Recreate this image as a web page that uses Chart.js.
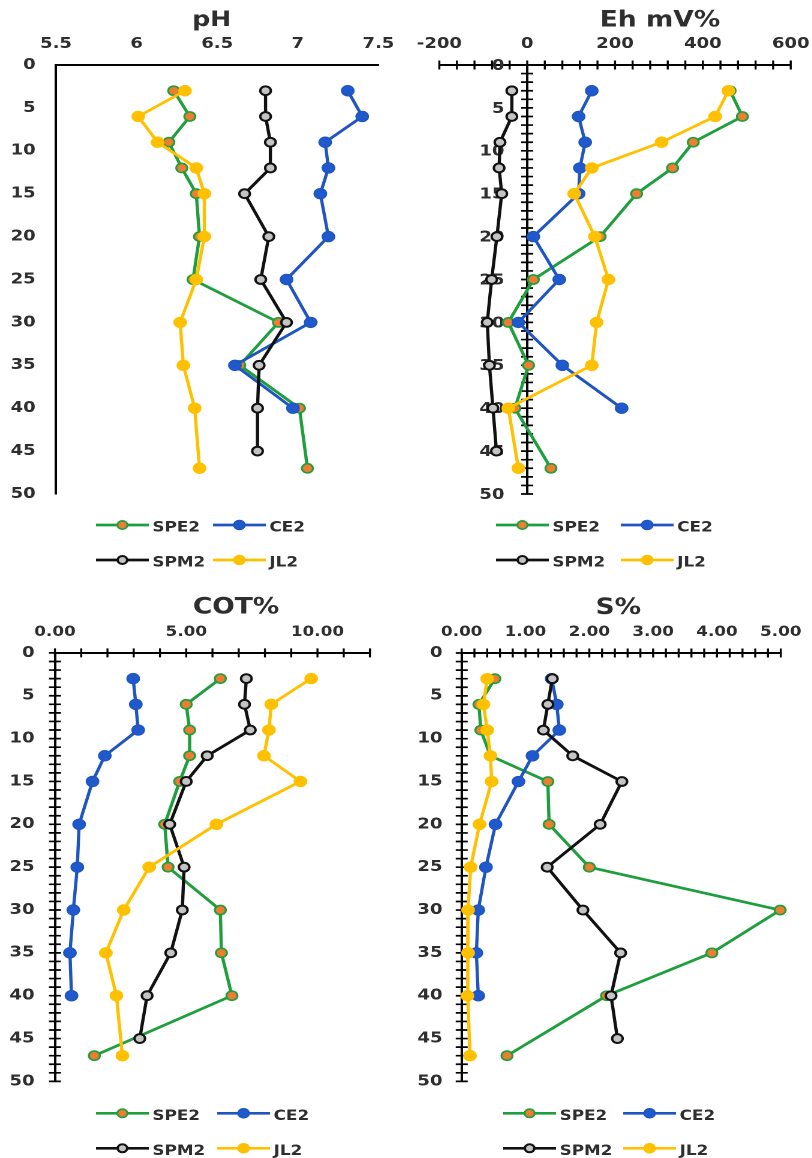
<!DOCTYPE html>
<html>
<head>
<meta charset="utf-8">
<script src="https://cdn.jsdelivr.net/npm/chart.js@4.4.1/dist/chart.umd.min.js"></script>
<style>
  html, body { margin: 0; padding: 0; background: #fff; }
  body { width: 812px; height: 1158px; position: relative; overflow: hidden; }
  .panel { position: absolute; transform: scaleX(1.2); transform-origin: 0 0; }
</style>
</head>
<body>
<div class="panel" style="left:0px;top:0px;width:333px;height:580px"><canvas id="chartPH"></canvas></div>
<div class="panel" style="left:400px;top:0px;width:343px;height:580px"><canvas id="chartEH"></canvas></div>
<div class="panel" style="left:0px;top:580px;width:333px;height:578px"><canvas id="chartCOT"></canvas></div>
<div class="panel" style="left:400px;top:580px;width:343px;height:578px"><canvas id="chartS"></canvas></div>
<script>
// Sampling depths of each core
const depthSPE2 = [3, 6, 9, 12, 15, 20, 25, 30, 35, 40, 47];
const depthCE2  = [3, 6, 9, 12, 15, 20, 25, 30, 35, 40];
const depthSPM2 = [3, 6, 9, 12, 15, 20, 25, 30, 35, 40, 45];
const depthJL2  = [3, 6, 9, 12, 15, 20, 25, 30, 35, 40, 47];

// Labelled ticks
const depthTicks = [0, 5, 10, 15, 20, 25, 30, 35, 40, 45, 50];
const phTicks  = [5.5, 6, 6.5, 7, 7.5];
const ehTicks  = [-200, 0, 200, 400, 600];
const cotTicks = [0, 5, 10];
const sTicks   = [0, 1, 2, 3, 4, 5];

// pH
const phSPE2 = [6.23, 6.33, 6.20, 6.28, 6.37, 6.39, 6.35, 6.88, 6.64, 7.01, 7.06];
const phCE2  = [7.31, 7.40, 7.17, 7.19, 7.14, 7.19, 6.93, 7.08, 6.61, 6.97];
const phSPM2 = [6.80, 6.80, 6.83, 6.83, 6.67, 6.82, 6.77, 6.93, 6.76, 6.75, 6.75];
const phJL2  = [6.30, 6.01, 6.13, 6.37, 6.42, 6.42, 6.37, 6.27, 6.29, 6.36, 6.39];

// Eh (mV)
const ehSPE2 = [462, 490, 378, 331, 249, 166, 14, -43, 3, -28, 54];
const ehCE2  = [147, 117, 132, 120, 117, 14, 73, -20, 80, 215];
const ehSPM2 = [-35, -35, -62, -64, -58, -69, -81, -91, -86, -78, -70];
const ehJL2  = [458, 428, 306, 147, 107, 154, 185, 158, 147, -43, -20];

// COT %
const cotSPE2 = [6.30, 5.00, 5.13, 5.13, 4.75, 4.18, 4.31, 6.30, 6.34, 6.74, 1.50];
const cotCE2  = [2.98, 3.08, 3.17, 1.90, 1.43, 0.92, 0.85, 0.70, 0.57, 0.63];
const cotSPM2 = [7.29, 7.22, 7.44, 5.80, 5.00, 4.37, 4.92, 4.85, 4.41, 3.51, 3.23];
const cotJL2  = [9.76, 8.24, 8.15, 7.96, 9.35, 6.15, 3.59, 2.62, 1.94, 2.34, 2.57];

// S %
const sSPE2 = [0.52, 0.27, 0.30, 0.45, 1.35, 1.37, 2.00, 4.99, 3.92, 2.27, 0.71];
const sCE2  = [1.41, 1.49, 1.53, 1.11, 0.89, 0.53, 0.38, 0.26, 0.23, 0.26];
const sSPM2 = [1.42, 1.35, 1.28, 1.74, 2.51, 2.17, 1.34, 1.90, 2.49, 2.34, 2.44];
const sJL2  = [0.40, 0.34, 0.40, 0.45, 0.47, 0.28, 0.14, 0.10, 0.10, 0.09, 0.13];

const FONT = "'DejaVu Sans', 'Verdana', sans-serif";
const TEXT = '#2e2e2e';

const seriesStyle = {
  SPE2: { line: '#1e9e3c', fill: '#ed7d31', edge: '#1e9e3c', edgeW: 1.6, r: 4.6 },
  CE2:  { line: '#1f55c0', fill: '#1f59cc', edge: '#1f55c0', edgeW: 1,   r: 5.2 },
  SPM2: { line: '#111111', fill: '#c4c4c4', edge: '#111111', edgeW: 2,   r: 4.4 },
  JL2:  { line: '#ffc000', fill: '#ffc000', edge: '#ffc000', edgeW: 1,   r: 5.2 }
};

function makeSeries(name, depths, values, order) {
  const st = seriesStyle[name];
  return {
    label: name,
    data: values.map((v, i) => ({ x: v, y: depths[i] })),
    borderColor: st.line,
    backgroundColor: st.fill,
    borderWidth: 2.7,
    pointRadius: st.r,
    pointBackgroundColor: st.fill,
    pointBorderColor: st.edge,
    pointBorderWidth: st.edgeW,
    tension: 0,
    clip: false,
    order: order
  };
}

function isLabelled(list, v) {
  return list.some(t => Math.abs(t - v) < 1e-6);
}

// Panel heading
const headingPlugin = {
  id: 'heading',
  afterDraw(chart, args, o) {
    const ctx = chart.ctx;
    ctx.save();
    ctx.font = `bold ${o.size}px ${FONT}`;
    ctx.fillStyle = TEXT;
    ctx.textAlign = 'center';
    ctx.textBaseline = 'alphabetic';
    ctx.fillText(o.text, o.x, o.y);
    ctx.restore();
  }
};

// Tick marks that cross the axis lines, plus depth labels for an axis sitting at x = 0
const crossTickPlugin = {
  id: 'crossTicks',
  beforeDatasetsDraw(chart, args, o) {
    const { ctx, scales: { x, y } } = chart;
    const axisX = o.yAtZero ? x.getPixelForValue(0) : x.left;
    const axisY = y.getPixelForValue(0);
    ctx.save();
    if (o.enabled) {
      ctx.strokeStyle = '#000';
      ctx.lineWidth = 1.7;
      ctx.beginPath();
      x.ticks.forEach(t => {
        const px = x.getPixelForValue(t.value);
        ctx.moveTo(px, axisY - 4.5);
        ctx.lineTo(px, axisY + 4.5);
      });
      y.ticks.forEach(t => {
        const py = y.getPixelForValue(t.value);
        ctx.moveTo(axisX - 5, py);
        ctx.lineTo(axisX + 5, py);
      });
      ctx.stroke();
    }
    if (o.yAtZero) {
      ctx.font = `bold 15px ${FONT}`;
      ctx.fillStyle = TEXT;
      ctx.textAlign = 'right';
      ctx.textBaseline = 'middle';
      depthTicks.forEach(v => {
        ctx.fillText(String(v), axisX - o.labelGap, y.getPixelForValue(v) + 1);
      });
    }
    ctx.restore();
  }
};

// Two-row legend with line + marker samples
const legendPlugin = {
  id: 'pairLegend',
  afterDraw(chart, args, o) {
    const ctx = chart.ctx;
    const slots = [[o.c1, o.y1], [o.c2, o.y1], [o.c1, o.y2], [o.c2, o.y2]];
    chart.data.datasets.forEach((ds, i) => {
      const [x, y] = slots[i];
      ctx.save();
      ctx.strokeStyle = ds.borderColor;
      ctx.lineWidth = ds.borderWidth;
      ctx.beginPath();
      ctx.moveTo(x, y);
      ctx.lineTo(x + o.len, y);
      ctx.stroke();
      ctx.beginPath();
      ctx.arc(x + o.len / 2, y, ds.pointRadius - 0.4, 0, Math.PI * 2);
      ctx.fillStyle = ds.pointBackgroundColor;
      ctx.fill();
      ctx.lineWidth = ds.pointBorderWidth;
      ctx.strokeStyle = ds.pointBorderColor;
      ctx.stroke();
      ctx.font = `bold 14px ${FONT}`;
      ctx.fillStyle = TEXT;
      ctx.textAlign = 'left';
      ctx.textBaseline = 'alphabetic';
      ctx.fillText(ds.label, x + o.len + 3, y + 6.5);
      ctx.restore();
    });
  }
};

function buildPanel(p) {
  const A = p.area;
  const datasets = [
    makeSeries('SPE2', depthSPE2, p.values[0], 4),
    makeSeries('CE2',  depthCE2,  p.values[1], 3),
    makeSeries('SPM2', depthSPM2, p.values[2], 2),
    makeSeries('JL2',  depthJL2,  p.values[3], 1)
  ];
  new Chart(document.getElementById(p.canvas), {
    type: 'line',
    data: { datasets },
    options: {
      responsive: true,
      maintainAspectRatio: false,
      animation: false,
      devicePixelRatio: 2,
      layout: {
        padding: { left: p.yAtZero ? A.l : 0, right: p.w - A.r, top: A.t - 40, bottom: p.h - A.b }
      },
      plugins: {
        legend: { display: false },
        title: { display: false },
        tooltip: { enabled: false },
        heading: { text: p.title, x: p.titleX, y: p.titleY, size: p.titleSize },
        crossTicks: { enabled: p.cross, yAtZero: p.yAtZero, labelGap: p.yPad },
        pairLegend: Object.assign({ len: 44 }, p.legend)
      },
      scales: {
        x: {
          type: 'linear',
          position: 'top',
          min: p.xMin,
          max: p.xMax,
          // invisible tick marks only set the gap between labels and the axis line
          grid: { drawOnChartArea: false, drawTicks: true, tickLength: 12, tickColor: 'rgba(0,0,0,0)' },
          border: { display: true, color: '#000', width: 2 },
          ticks: {
            stepSize: p.xStep,
            maxTicksLimit: 1000,
            autoSkip: false,
            maxRotation: 0,
            padding: 0,
            color: TEXT,
            font: { family: FONT, size: p.tickSize, weight: 'bold' },
            callback: v => isLabelled(p.xLabels, v) ? p.fmt(v) : ''
          },
          afterFit: s => { s.height = 40; }
        },
        y: {
          type: 'linear',
          position: p.yAtZero ? { x: 0 } : 'left',
          reverse: true,
          min: 0,
          max: 50,
          grid: { drawOnChartArea: false, drawTicks: false },
          border: { display: true, color: '#000', width: 2 },
          ticks: {
            display: !p.yAtZero,
            stepSize: p.cross ? 1 : 5,
            maxTicksLimit: 1000,
            autoSkip: false,
            padding: p.yPad,
            color: TEXT,
            font: { family: FONT, size: 15, weight: 'bold' },
            callback: v => isLabelled(depthTicks, v) ? String(v) : ''
          },
          afterFit: s => { if (!p.yAtZero) s.width = A.l; }
        }
      }
    },
    plugins: [headingPlugin, crossTickPlugin, legendPlugin]
  });
}

buildPanel({
  canvas: 'chartPH', w: 333, h: 580, title: 'pH', titleX: 176.4, titleY: 26, titleSize: 21,
  area: { l: 46.7, r: 315.3, t: 65, b: 494 },
  xMin: 5.5, xMax: 7.5, xStep: 0.5, xLabels: phTicks, fmt: v => String(v), tickSize: 15,
  cross: false, yAtZero: false, yPad: 17,
  legend: { c1: 80, c2: 177.5, y1: 525, y2: 560 },
  values: [phSPE2, phCE2, phSPM2, phJL2]
});

buildPanel({
  canvas: 'chartEH', w: 343, h: 580, title: 'Eh mV%', titleX: 216.7, titleY: 26.7, titleSize: 22,
  area: { l: 32.8, r: 325.6, t: 65, b: 494 },
  xMin: -200, xMax: 600, xStep: 40, xLabels: ehTicks, fmt: v => String(v), tickSize: 15,
  cross: true, yAtZero: true, yPad: 19,
  legend: { c1: 80, c2: 184, y1: 525, y2: 560 },
  values: [ehSPE2, ehCE2, ehSPM2, ehJL2]
});

buildPanel({
  canvas: 'chartCOT', w: 333, h: 578, title: 'COT%', titleX: 196.7, titleY: 33.3, titleSize: 22,
  area: { l: 45.8, r: 308.3, t: 72.9, b: 501.4 },
  xMin: 0, xMax: 12, xStep: 1, xLabels: cotTicks, fmt: v => v.toFixed(2), tickSize: 14,
  cross: true, yAtZero: false, yPad: 17,
  legend: { c1: 80, c2: 181, y1: 533.3, y2: 568.3 },
  values: [cotSPE2, cotCE2, cotSPM2, cotJL2]
});

buildPanel({
  canvas: 'chartS', w: 343, h: 578, title: 'S%', titleX: 182, titleY: 34, titleSize: 22,
  area: { l: 51.4, r: 317.3, t: 73, b: 501.4 },
  xMin: 0, xMax: 5, xStep: 0.2, xLabels: sTicks, fmt: v => v.toFixed(2), tickSize: 14,
  cross: true, yAtZero: false, yPad: 16,
  legend: { c1: 86, c2: 186, y1: 533.3, y2: 568.3 },
  values: [sSPE2, sCE2, sSPM2, sJL2]
});
</script>
</body>
</html>
